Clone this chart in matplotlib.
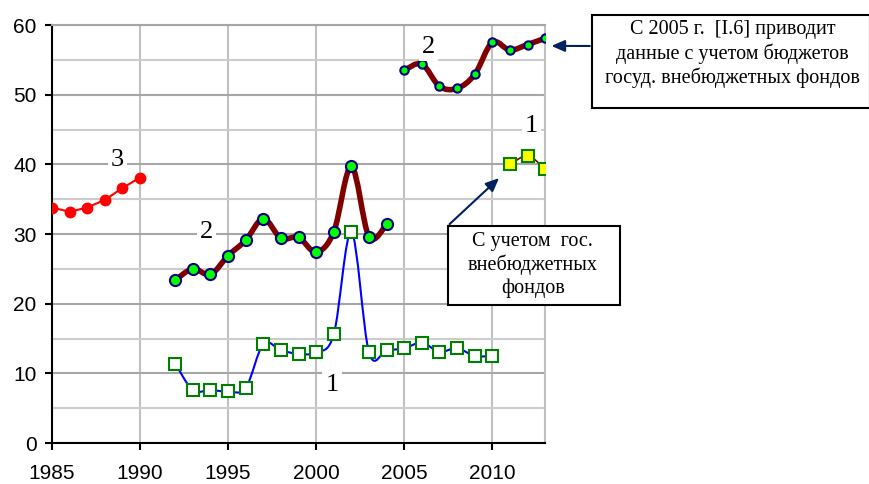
import matplotlib
matplotlib.use("Agg")
import matplotlib.pyplot as plt
from matplotlib.path import Path
from matplotlib.patches import PathPatch

# series 3 (red)
years3 = [1985, 1986, 1987, 1988, 1989, 1990]
vals3 = [33.8, 33.2, 33.8, 34.9, 36.6, 38.1]

# series 2 (dark red thick line)
years2a = list(range(1992, 2005))
vals2a = [23.4, 25.0, 24.2, 26.9, 29.1, 32.2, 29.4, 29.5, 27.4, 30.3, 39.7, 29.6, 31.4]
years2b = list(range(2005, 2014))
vals2b = [53.5, 54.4, 51.2, 50.9, 52.9, 57.5, 56.4, 57.2, 58.1]

# series 1 (blue)
years1 = list(range(1992, 2011))
vals1 = [11.4, 7.6, 7.6, 7.4, 7.9, 14.2, 13.3, 12.8, 13.0, 15.6, 30.3, 13.0,
         13.3, 13.6, 14.4, 13.1, 13.6, 12.5, 12.5]
years1b = [2011, 2012, 2013]
vals1b = [40.0, 41.2, 39.4]

xticks = [1985, 1990, 1995, 2000, 2005, 2010]
yticks = [0, 10, 20, 30, 40, 50, 60]


def smooth_path(xs, ys):
    # Excel-like smoothed line as cubic bezier segments
    pts = list(zip(xs, ys))
    n = len(pts)
    verts = [pts[0]]
    codes = [Path.MOVETO]
    for i in range(n - 1):
        p0 = pts[i - 1] if i > 0 else pts[i]
        p1 = pts[i]
        p2 = pts[i + 1]
        p3 = pts[i + 2] if i + 2 < n else pts[i + 1]
        c1 = (p1[0] + (p2[0] - p0[0]) / 6, p1[1] + (p2[1] - p0[1]) / 6)
        c2 = (p2[0] - (p3[0] - p1[0]) / 6, p2[1] - (p3[1] - p1[1]) / 6)
        verts += [c1, c2, p2]
        codes += [Path.CURVE4] * 3
    return Path(verts, codes)


fig = plt.figure(figsize=(8.69, 4.84), dpi=100)
ax = fig.add_axes([0.0598, 0.0847, 0.5675, 0.8636])
ax.set_xlim(1985, 2013)
ax.set_ylim(0, 60)

ax.set_xticks(xticks)
ax.set_yticks(yticks)
ax.set_yticks(range(5, 60, 10), minor=True)
ax.tick_params(axis="both", labelsize=15, direction="out", length=5, width=1.5)
ax.tick_params(axis="x", pad=10)
ax.tick_params(axis="y", pad=6)
ax.tick_params(axis="y", which="minor", length=0)
for t in ax.get_xticklabels() + ax.get_yticklabels():
    t.set_family("Liberation Sans")
ax.grid(True, axis="x", color="#c0c0c0", linewidth=1.5)
ax.grid(True, axis="y", which="major", color="#a6a6a6", linewidth=1.5)
ax.grid(True, axis="y", which="minor", color="#cccccc", linewidth=1.5)
ax.set_axisbelow(True)
ax.spines["top"].set_color("#a6a6a6")
ax.spines["right"].set_color("#c0c0c0")
for s in ["top", "right"]:
    ax.spines[s].set_linewidth(1.5)
for s in ["left", "bottom"]:
    ax.spines[s].set_linewidth(1.5)

# series 3
ax.plot(years3, vals3, color="red", lw=1.5, marker="o", ms=7.5,
        mfc="red", mec="red", zorder=4)

# series 1
ax.add_patch(PathPatch(smooth_path(years1, vals1), fill=False,
                       edgecolor="blue", lw=1.5, zorder=3))
ax.plot(years1, vals1, ls="none", marker="s", ms=8, mfc="white",
        mec="green", mew=1.5, zorder=4)
ax.add_patch(PathPatch(smooth_path(years1b, vals1b), fill=False,
                       edgecolor="#800000", lw=1.2, zorder=3))
ax.plot(years1b, vals1b, ls="none", marker="s", ms=8, mfc="yellow",
        mec="green", mew=1.5, zorder=4)

# series 2
for xs, ys in [(years2a, vals2a), (years2b, vals2b)]:
    ax.add_patch(PathPatch(smooth_path(xs, ys), fill=False,
                           edgecolor="#800000", lw=4, capstyle="round",
                           joinstyle="round", zorder=3))
ax.plot(years2a, vals2a, ls="none", marker="o", ms=8, mfc="#00ff00",
        mec="#000080", mew=1.5, zorder=5)
ax.plot(years2b, vals2b, ls="none", marker="o", ms=6, mfc="#00ff00",
        mec="#000080", mew=1.5, zorder=5)

# series labels
lab = dict(fontsize=19, family="Liberation Serif", ha="center", va="center",
           bbox=dict(facecolor="white", edgecolor="none", pad=2), zorder=6)
ax.text(1988.7, 40.6, "3", **lab)
ax.text(1993.8, 30.3, "2", **lab)
ax.text(2000.9, 8.3, "1", **lab)
ax.text(2006.4, 56.8, "2", **lab)
ax.text(2012.2, 45.5, "1", **lab)

# annotation boxes
boxfont = dict(fontsize=14.5, family="Liberation Serif", ha="center",
               va="center", linespacing=1.25, zorder=9)
ax.annotate("", xy=(2013.2, 57.0), xycoords="data",
            xytext=(0.682, 0.905), textcoords="figure fraction",
            arrowprops=dict(arrowstyle="-|>,head_length=0.8,head_width=0.35",
                            color="#002060", lw=1.5), annotation_clip=False)
fig.text(0.843, 0.888, "С 2005 г.  [I.6] приводит\nданные с учетом бюджетов\nгосуд. внебюджетных фондов",
         **boxfont)
fig.patches.append(plt.Rectangle((0.681, 0.777), 0.32, 0.193,
                                 transform=fig.transFigure, facecolor="white",
                                 edgecolor="black", lw=1.5, zorder=7))

ax.annotate("", xy=(2010.5, 38.3), xycoords="data",
            xytext=(0.515, 0.533), textcoords="figure fraction",
            arrowprops=dict(arrowstyle="-|>,head_length=0.8,head_width=0.35",
                            color="#002060", lw=1.5), annotation_clip=False)
fig.text(0.613, 0.452, "С учетом  гос.\nвнебюджетных\nфондов", **boxfont)
fig.patches.append(plt.Rectangle((0.515, 0.370), 0.198, 0.163,
                                 transform=fig.transFigure, facecolor="white",
                                 edgecolor="black", lw=1.5, zorder=7))

fig.savefig("out.png", dpi=100)
